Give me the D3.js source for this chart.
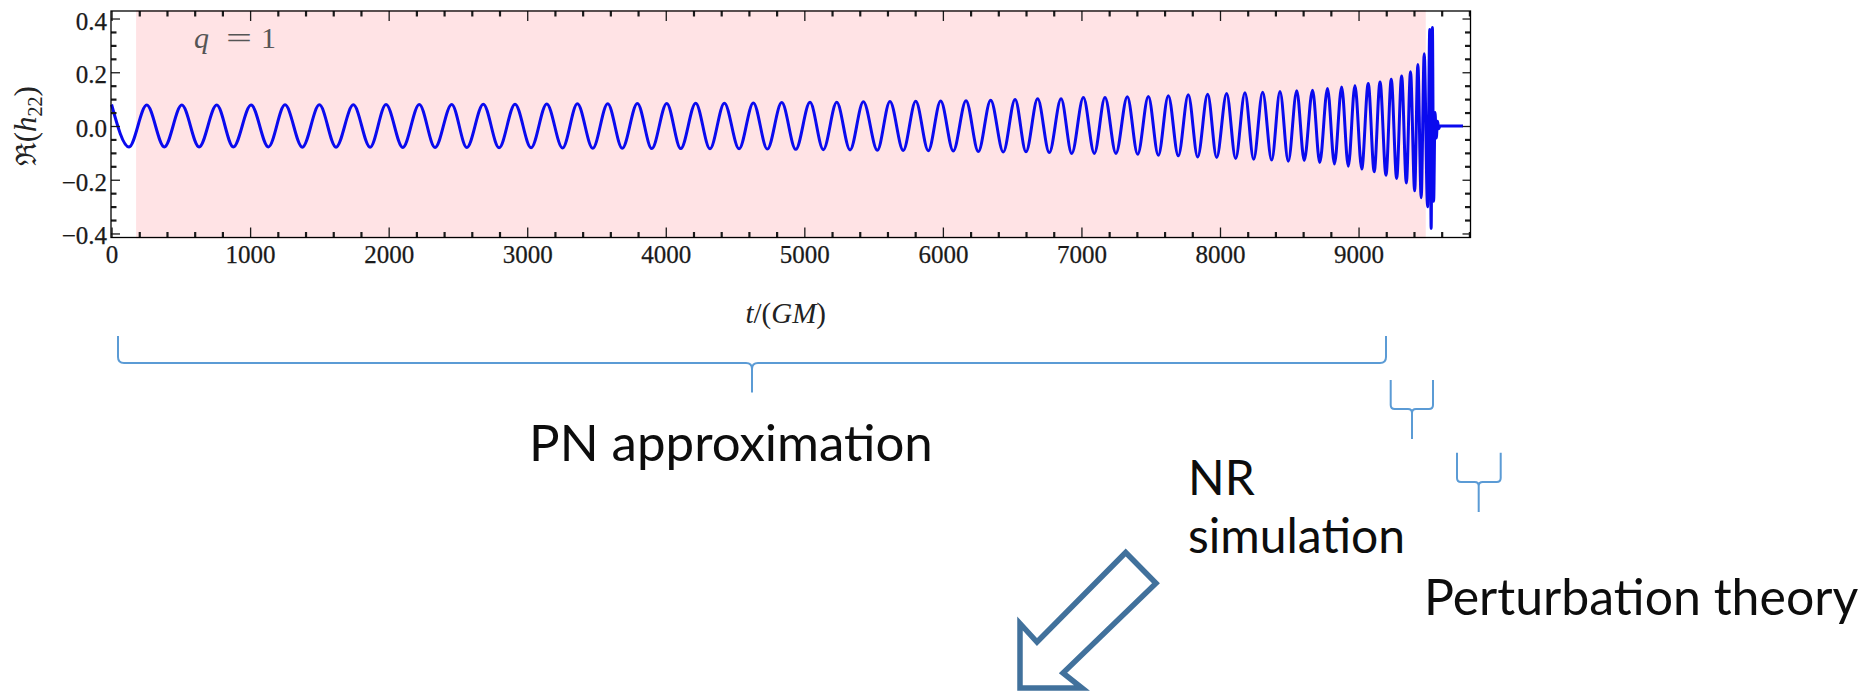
<!DOCTYPE html>
<html>
<head>
<meta charset="utf-8">
<script src="https://cdn.jsdelivr.net/npm/d3@7"></script>
<style>
  body { margin: 0; background: #fff; }
  svg { display: block; }
</style>
</head>
<body>
<svg id="chart"></svg>
<script>
// Extrema of Re(h22) (t in GM, alternating peak / trough)
const waveT = [
  0, 126, 254, 381, 507, 632, 759, 879, 1007, 1132,
  1252, 1377, 1500, 1620, 1745, 1866, 1981, 2102, 2221, 2335,
  2455, 2564, 2683, 2797, 2912, 3028, 3141, 3255, 3362, 3473,
  3581, 3686, 3795, 3899, 4007, 4108, 4216, 4319, 4423, 4529,
  4632, 4733, 4837, 4938, 5041, 5137, 5234, 5330, 5426, 5527,
  5618, 5714, 5804, 5895, 5984, 6075, 6167, 6256, 6345, 6436,
  6521, 6600, 6684, 6768, 6853, 6930, 7014, 7093, 7170, 7249,
  7331, 7406, 7483, 7555, 7627, 7699, 7771, 7839, 7911, 7976,
  8048, 8113, 8180, 8243, 8308, 8373, 8433, 8493, 8554, 8608,
  8668, 8720, 8776, 8826, 8878, 8926, 8974, 9023, 9070, 9113,
  9155, 9198, 9236, 9275, 9311, 9345, 9375, 9405, 9428, 9452,
  9474, 9498, 9514, 9524, 9533, 9542, 9552, 9561, 9570, 9579,
  9588, 9754
];
const waveH = [
  0.080, -0.078, 0.078, -0.078, 0.078, -0.078, 0.078, -0.078, 0.078, -0.078,
  0.079, -0.079, 0.079, -0.079, 0.079, -0.079, 0.080, -0.080, 0.080, -0.080,
  0.080, -0.080, 0.081, -0.081, 0.081, -0.081, 0.082, -0.082, 0.083, -0.083,
  0.083, -0.083, 0.084, -0.084, 0.084, -0.084, 0.085, -0.085, 0.085, -0.085,
  0.086, -0.086, 0.087, -0.087, 0.088, -0.088, 0.088, -0.089, 0.090, -0.090,
  0.091, -0.091, 0.092, -0.092, 0.093, -0.093, 0.094, -0.095, 0.096, -0.097,
  0.099, -0.096, 0.101, -0.099, 0.101, -0.102, 0.106, -0.102, 0.106, -0.102,
  0.109, -0.105, 0.110, -0.109, 0.113, -0.111, 0.116, -0.115, 0.118, -0.117,
  0.121, -0.121, 0.124, -0.124, 0.126, -0.127, 0.128, -0.131, 0.131, -0.128,
  0.133, -0.136, 0.140, -0.141, 0.145, -0.150, 0.151, -0.160, 0.158, -0.170,
  0.164, -0.183, 0.174, -0.195, 0.186, -0.212, 0.202, -0.241, 0.229, -0.267,
  0.269, -0.301, 0.359, -0.381, 0.367, -0.280, 0.050, -0.045, 0.018, -0.010,
  0, 0
];
// pink band (t range)
const shadeRange = [177, 9485];

// tick labels
const xTicks = [0, 1000, 2000, 3000, 4000, 5000, 6000, 7000, 8000, 9000];
const yTicks = [-0.4, -0.2, 0.0, 0.2, 0.4];

// annotation texts
const pnLabel = "PN approximation";
const nrLabel = ["NR", "simulation"];
const ptLabel = "Perturbation theory";

const width = 1864;
const height = 694;
const plot = { left: 111, right: 1470.5, top: 11, bottom: 237.5 };

const svg = d3.select("#chart")
    .attr("width", width)
    .attr("height", height);

const x = d3.scaleLinear().domain([-4, 9808]).range([plot.left, plot.right]);
const y = d3.scaleLinear().domain([-0.415, 0.428]).range([plot.bottom, plot.top]);

// shaded region
svg.append("rect")
    .attr("x", x(shadeRange[0]))
    .attr("y", plot.top - 1)
    .attr("width", x(shadeRange[1]) - x(shadeRange[0]))
    .attr("height", plot.bottom - plot.top + 2)
    .attr("fill", "#ffe3e5");

// waveform
const wave = waveT.map((t, i) => ({ t: t, h: waveH[i] }));
svg.append("path")
    .datum(wave)
    .attr("fill", "none")
    .attr("stroke", "#0a0aee")
    .attr("stroke-width", 3)
    .attr("stroke-linejoin", "round")
    .attr("d", d3.line()
        .x(d => x(d.t))
        .y(d => y(d.h))
        .curve(d3.curveMonotoneX));

// frame ticks
const xMinor = d3.range(0, 9801, 200).filter(d => d % 1000 !== 0);
const yMinor = d3.range(-8, 9).filter(k => k % 4 !== 0).map(k => k * 0.05);
const fmt = d3.format(".1f");
const serif = "'Liberation Serif', 'DejaVu Serif', serif";

function styleAxis(g) {
    g.select(".domain").remove();
    g.selectAll("line").attr("stroke", "#1a1a1a");
    g.selectAll("text")
        .attr("fill", "#1a1a1a")
        .attr("stroke", "#1a1a1a")
        .attr("stroke-width", 0.25)
        .style("font-family", serif)
        .style("font-size", "25px");
}

svg.append("g")
    .attr("transform", `translate(0,${plot.bottom})`)
    .call(d3.axisBottom(x).tickValues(xTicks).tickSize(-10).tickPadding(8).tickFormat(d3.format("d")))
    .call(styleAxis)
    .call(g => g.selectAll("line").attr("stroke-width", 1.3));

svg.append("g")
    .attr("transform", `translate(0,${plot.bottom})`)
    .call(d3.axisBottom(x).tickValues(xMinor).tickSize(-5.5).tickFormat(""))
    .call(styleAxis)
    .call(g => g.selectAll("line").attr("stroke-width", 2.2));

svg.append("g")
    .attr("transform", `translate(0,${plot.top})`)
    .call(d3.axisTop(x).tickValues(xTicks).tickSize(-10).tickFormat(""))
    .call(styleAxis)
    .call(g => g.selectAll("line").attr("stroke-width", 1.3));

svg.append("g")
    .attr("transform", `translate(0,${plot.top})`)
    .call(d3.axisTop(x).tickValues(xMinor).tickSize(-5.5).tickFormat(""))
    .call(styleAxis)
    .call(g => g.selectAll("line").attr("stroke-width", 2.2));

svg.append("g")
    .attr("transform", `translate(${plot.left},0)`)
    .call(d3.axisLeft(y).tickValues(yTicks).tickSize(-9).tickPadding(4).tickFormat(fmt))
    .call(styleAxis)
    .call(g => g.selectAll("line").attr("stroke-width", 1.3))
    .call(g => g.selectAll("text").attr("dy", "0.42em"));

svg.append("g")
    .attr("transform", `translate(${plot.left},0)`)
    .call(d3.axisLeft(y).tickValues(yMinor).tickSize(-5.5).tickFormat(""))
    .call(styleAxis)
    .call(g => g.selectAll("line").attr("stroke-width", 2.2));

svg.append("g")
    .attr("transform", `translate(${plot.right},0)`)
    .call(d3.axisRight(y).tickValues(yTicks).tickSize(-8).tickFormat(""))
    .call(styleAxis)
    .call(g => g.selectAll("line").attr("stroke-width", 1.3));

svg.append("g")
    .attr("transform", `translate(${plot.right},0)`)
    .call(d3.axisRight(y).tickValues(yMinor).tickSize(-5.5).tickFormat(""))
    .call(styleAxis)
    .call(g => g.selectAll("line").attr("stroke-width", 2.2));

// frame
svg.append("rect")
    .attr("x", plot.left)
    .attr("y", plot.top)
    .attr("width", plot.right - plot.left)
    .attr("height", plot.bottom - plot.top)
    .attr("fill", "none")
    .attr("stroke", "#000")
    .attr("stroke-width", 1.3);

// axis titles
const yTitle = svg.append("text")
    .attr("transform", `translate(36,${(plot.top + plot.bottom) / 2 + 2}) rotate(-90)`)
    .attr("text-anchor", "middle")
    .attr("fill", "#222")
    .style("font-family", serif)
    .style("font-size", "31px");
yTitle.append("tspan").style("font-family", "'DejaVu Serif', serif").style("font-size", "28px").text("\u211C");
yTitle.append("tspan").text("(");
yTitle.append("tspan").style("font-style", "italic").text("h");
yTitle.append("tspan").attr("dy", 6).style("font-size", "20px").text("22");
yTitle.append("tspan").attr("dy", -6).text(")");

const xTitle = svg.append("text")
    .attr("x", (plot.left + plot.right) / 2 - 5)
    .attr("y", 323)
    .attr("text-anchor", "middle")
    .attr("fill", "#222")
    .style("font-family", serif)
    .style("font-size", "29px");
xTitle.append("tspan").style("font-style", "italic").text("t");
xTitle.append("tspan").text("/(");
xTitle.append("tspan").style("font-style", "italic").text("GM");
xTitle.append("tspan").text(")");

// q = 1 inset label
const qParts = [["q", 194, "italic"], ["=", 226, "normal"], ["1", 261, "normal"]];
qParts.forEach(p => {
    svg.append("text")
        .attr("x", p[1])
        .attr("y", 48)
        .attr("fill", "#555")
        .style("font-family", serif)
        .style("font-size", "30px")
        .style("font-style", p[2])
        .attr("textLength", p[0] === "=" ? 26 : null)
        .attr("lengthAdjust", "spacingAndGlyphs")
        .text(p[0]);
});

// braces
function bracePath(L, R, T, M, B, C, r) {
    return `M${L},${T} L${L},${M - r} Q${L},${M} ${L + r},${M} L${C - r},${M} Q${C},${M} ${C},${M + r} L${C},${B}` +
        ` M${R},${T} L${R},${M - r} Q${R},${M} ${R - r},${M} L${C + r},${M} Q${C},${M} ${C},${M + r}`;
}
const braceColor = "#5b9bd5";
[
    [118, 1386, 336, 363, 392.5, 752, 6],
    [1390.7, 1433, 380, 409, 439, 1412, 4],
    [1457, 1500.7, 452.7, 482, 512, 1478.7, 4]
].forEach(b => {
    svg.append("path")
        .attr("d", bracePath(...b))
        .attr("fill", "none")
        .attr("stroke", braceColor)
        .attr("stroke-width", 2);
});

// region labels
const sans = "Lato, 'Noto Sans', sans-serif";

svg.append("text")
    .attr("x", 529)
    .attr("y", 461)
    .attr("fill", "#0d0d0d")
    .style("font-family", sans)
    .style("font-size", "51px")
    .text(pnLabel);

// two-line label in one text box
const nrText = svg.append("text")
    .attr("fill", "#0d0d0d")
    .style("font-family", sans)
    .style("font-size", "48px");
nrText.selectAll("tspan")
    .data(nrLabel)
    .enter()
    .append("tspan")
    .attr("x", 1188)
    .attr("y", (d, i) => 495 + i * 58)
    .text(d => d);

svg.append("text")
    .attr("x", 1424)
    .attr("y", 615)
    .attr("fill", "#0d0d0d")
    .style("font-family", sans)
    .style("font-size", "50px")
    .text(ptLabel);

// block arrow
const arrowPts = [[1125.7, 552.5], [1156, 583.3], [1063, 673], [1082, 688], [1020, 688], [1020, 623.5], [1037, 642]];
svg.append("polygon")
    .attr("points", arrowPts.map(p => p.join(",")).join(" "))
    .attr("fill", "#fff")
    .attr("stroke", "#41719c")
    .attr("stroke-width", 5.5)
    .attr("stroke-linejoin", "miter");
</script>
</body>
</html>
